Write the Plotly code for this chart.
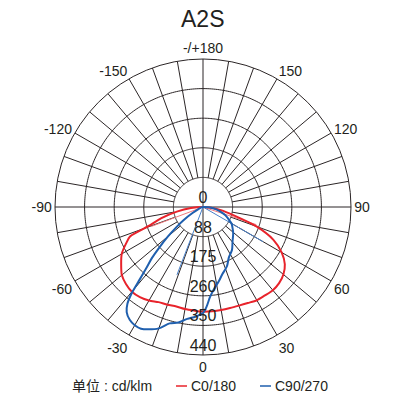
import numpy as np
import plotly.graph_objects as go

# ---- data (cd/klm) ----
red_theta = [-90, -85, -80, -75, -71, -68, -65, -60, -55, -50, -45, -40, -35, -30, -25, -20, -15, -10, -5, 0,
             5, 10, 15, 20, 25, 30, 35, 40, 45, 50, 55, 60, 65, 70, 75, 80, 85, 90]
red_cd = [0, 36, 79, 128, 166, 234, 251, 279, 297, 315, 324, 329, 327, 321, 312, 309, 306, 308, 309, 311,
          311, 311, 311, 312, 315, 320, 321, 323, 320, 312, 297, 270, 231, 169, 93, 54, 24, 0]

blue_theta = [-90, -75, -65, -60, -56, -53, -50, -47, -45, -43, -41, -39.5, -38, -36, -33, -30, -27, -24, -20,
              -16, -12, -8, -4, -2, 0, 2, 4.5, 8, 12, 16, 22, 27, 34, 41, 49, 55, 60, 65, 70, 76, 83, 90]
blue_cd = [0, 5, 15, 36, 70, 98, 135, 180, 215, 245, 290, 335, 365, 386, 400, 406, 406, 398, 384,
           360, 351, 336, 327, 321, 315, 297, 268, 244, 226, 208, 190, 169, 154, 134, 119, 107, 98, 83, 70, 51, 31, 0]

# faint extra strokes seen in the source drawing
thin_blue = [(-21, 216), (60, 206)]
thin_red = [(-69.4, 164), (71.7, 167)]

ring_vals = [88, 176, 264, 352, 440]
ring_text = ["88", "175", "260", "350", "440"]
ang_vals = [0, 30, 60, 90, 120, 150, 180, 210, 240, 270, 300, 330]
ang_text = ["0", "30", "60", "90", "120", "150", "-/+180", "-150", "-120", "-90", "-60", "-30"]

RED = "#e8232b"
BLUE = "#1f5fae"
GRID = "#2b2526"
TXT = "#231f20"

fig = go.Figure()

# grid rings
circ = np.arange(0, 361, 1)
for rv in ring_vals[:-1]:
    fig.add_trace(go.Scatterpolar(theta=circ, r=[rv] * len(circ), mode="lines",
                                  line=dict(color=GRID, width=1), hoverinfo="skip", showlegend=False))
# spokes
for a in range(0, 360, 10):
    r0 = 0 if a % 90 == 0 else ring_vals[0]
    fig.add_trace(go.Scatterpolar(theta=[a, a], r=[r0, ring_vals[-1]], mode="lines",
                                  line=dict(color=GRID, width=1), hoverinfo="skip", showlegend=False))

# faint strokes
for t, v in thin_red:
    fig.add_trace(go.Scatterpolar(theta=[t, t], r=[0, v], mode="lines",
                                  line=dict(color="#f07a7e", width=1), hoverinfo="skip", showlegend=False))
for t, v in thin_blue:
    fig.add_trace(go.Scatterpolar(theta=[t, t], r=[0, v], mode="lines",
                                  line=dict(color="#4a80c8", width=1), hoverinfo="skip", showlegend=False))

# curves
fig.add_trace(go.Scatterpolar(theta=red_theta, r=red_cd, mode="lines", name="C0/180",
                              line=dict(color=RED, width=2, shape="spline", smoothing=0.8), showlegend=False))
fig.add_trace(go.Scatterpolar(theta=blue_theta, r=blue_cd, mode="lines", name="C90/270",
                              line=dict(color=BLUE, width=2, shape="spline", smoothing=0.8), showlegend=False))

# radial labels
fig.add_trace(go.Scatterpolar(theta=[0] * 6, r=[0] + ring_vals, mode="text",
                              text=["0"] + ring_text, textposition="top center",
                              textfont=dict(size=16, color=TXT, family="Liberation Sans, Arial"),
                              hoverinfo="skip", showlegend=False))

fig.update_layout(
    width=400, height=400,
    margin=dict(l=0, r=0, t=0, b=0),
    paper_bgcolor="white",
    font=dict(family="Liberation Sans, Arial, Noto Sans CJK SC", color=TXT),
    polar=dict(
        domain=dict(x=[0.1375, 0.8775], y=[0.1125, 0.8525]),
        bgcolor="white",
        radialaxis=dict(range=[0, 440], visible=False, showgrid=False),
        angularaxis=dict(rotation=-90, direction="counterclockwise",
                         tickmode="array", tickvals=ang_vals, ticktext=ang_text,
                         showgrid=False, showline=True, linecolor=GRID, linewidth=1,
                         ticks="", tickfont=dict(size=14, color=TXT)),
    ),
    annotations=[
        dict(text="A2S", x=0.5075, y=0.953, xref="paper", yref="paper", showarrow=False,
             xanchor="center", yanchor="middle", font=dict(size=23, color=TXT)),
        dict(text="单位 : cd/klm", x=70 / 400, y=1 - 386 / 400, xref="paper", yref="paper", showarrow=False,
             xanchor="left", yanchor="middle",
             font=dict(size=14, color=TXT, family="Liberation Sans, Noto Sans CJK SC")),
        dict(text="C0/180", x=189 / 400, y=1 - 386 / 400, xref="paper", yref="paper", showarrow=False,
             xanchor="left", yanchor="middle", font=dict(size=14, color=TXT)),
        dict(text="C90/270", x=273 / 400, y=1 - 386 / 400, xref="paper", yref="paper", showarrow=False,
             xanchor="left", yanchor="middle", font=dict(size=14, color=TXT)),
    ],
    shapes=[
        dict(type="line", xref="paper", yref="paper", x0=176 / 400, x1=187 / 400,
             y0=1 - 386 / 400, y1=1 - 386 / 400, line=dict(color=RED, width=1.5)),
        dict(type="line", xref="paper", yref="paper", x0=260 / 400, x1=271 / 400,
             y0=1 - 386 / 400, y1=1 - 386 / 400, line=dict(color=BLUE, width=1.5)),
    ],
)

fig.write_html("out.html")
